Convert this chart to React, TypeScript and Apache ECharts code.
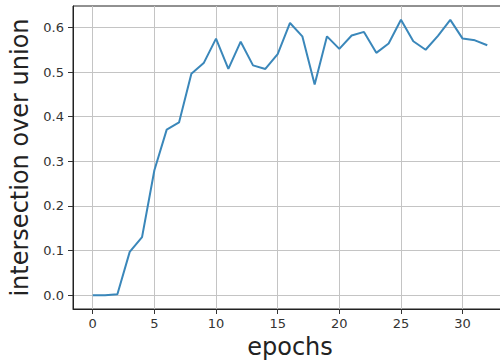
import React, { useEffect, useRef } from "react";
import * as echarts from "echarts";

const epochs = [0, 1, 2, 3, 4, 5, 6, 7, 8, 9, 10, 11, 12, 13, 14, 15, 16, 17, 18, 19, 20, 21, 22, 23, 24, 25, 26, 27, 28, 29, 30, 31, 32];
const iou = [0.0, 0.0, 0.002, 0.097, 0.13, 0.28, 0.371, 0.387, 0.496, 0.52, 0.575, 0.507, 0.568, 0.515, 0.507, 0.54, 0.61, 0.58, 0.472, 0.58, 0.552, 0.582, 0.59, 0.543, 0.564, 0.617, 0.569, 0.55, 0.581, 0.617, 0.575, 0.571, 0.56];
const xTicks = [0, 5, 10, 15, 20, 25, 30];
const yTicks = [0, 0.1, 0.2, 0.3, 0.4, 0.5, 0.6];

const FONT = "DejaVu Sans";

export default function App() {
  const ref = useRef<HTMLDivElement>(null);
  useEffect(() => {
    if (!ref.current) return;
    const chart = echarts.init(ref.current, undefined, { renderer: "svg" });
    chart.setOption({
      animation: false,
      backgroundColor: "#ffffff",
      grid: {
        left: 73,
        top: 6,
        width: 434,
        height: 303,
        outerBoundsMode: "none",
        containLabel: false,
        show: true,
        borderColor: "#222",
        borderWidth: 1,
        backgroundColor: "#fff",
      },
      xAxis: {
        type: "value",
        min: -1.6,
        max: 33.6,
        name: "epochs",
        nameLocation: "middle",
        nameGap: 22,
        nameTextStyle: { fontFamily: FONT, fontSize: 24, color: "#222" },
        axisLine: { show: true, onZero: false, lineStyle: { color: "#222", width: 1 } },
        axisTick: { show: true, length: 5, customValues: xTicks, lineStyle: { color: "#333" } },
        axisLabel: {
          customValues: xTicks,
          margin: 8,
          fontFamily: FONT,
          fontSize: 13,
          color: "#333",
          formatter: (v: number) => String(v),
        },
        splitLine: { show: true, lineStyle: { color: "#c4c4c4", width: 1 } },
      },
      yAxis: {
        type: "value",
        min: -0.031,
        max: 0.648,
        name: "intersection over union",
        nameLocation: "middle",
        nameGap: 36,
        nameTextStyle: { fontFamily: FONT, fontSize: 24, color: "#222" },
        axisLine: { show: true, onZero: false, lineStyle: { color: "#222", width: 1 } },
        axisTick: { show: true, length: 5, customValues: yTicks, lineStyle: { color: "#333" } },
        axisLabel: {
          customValues: yTicks,
          margin: 9,
          fontFamily: FONT,
          fontSize: 13,
          color: "#333",
          formatter: (v: number) => v.toFixed(1),
        },
        splitLine: { show: true, lineStyle: { color: "#c4c4c4", width: 1 } },
      },
      series: [
        {
          type: "line",
          data: epochs.map((e, i) => [e, iou[i]]),
          showSymbol: false,
          symbol: "none",
          lineStyle: { color: "#3a87ba", width: 2 },
        },
      ],
    });
    return () => chart.dispose();
  }, []);
  return <div ref={ref} style={{ width: 500, height: 362, position: "absolute", left: 0, top: 0 }} />;
}
